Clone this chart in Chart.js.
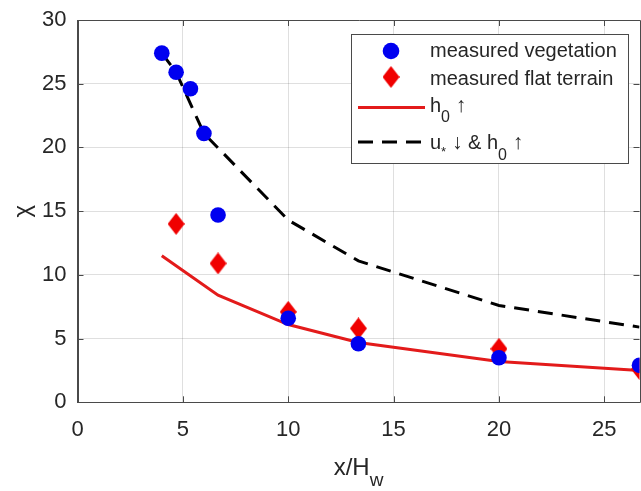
<!DOCTYPE html>
<html><head><meta charset="utf-8">
<script src="https://cdn.jsdelivr.net/npm/chart.js@4/dist/chart.umd.min.js"></script>
<style>html,body{margin:0;padding:0;background:#fff}#wrap{width:641px;height:491px}</style>
</head><body><div id="wrap"><canvas id="c" width="641" height="491"></canvas></div>
<script>
// ---- data ----
const vegX = [4.0, 4.68, 5.36, 6.0, 6.67, 10, 13.33, 20, 26.67];
const vegY = [27.4, 25.9, 24.6, 21.1, 14.7, 6.6, 4.6, 3.5, 2.9];
const flatX = [4.68, 6.67, 10, 13.33, 20, 26.67];
const flatY = [14.0, 10.9, 7.1, 5.8, 4.2, 2.6];
const h0X = [4.0, 6.67, 10, 13.33, 20, 26.67];
const h0Y = [11.5, 8.4, 6.1, 4.7, 3.2, 2.5];
const uhX = [4.0, 4.68, 6.0, 10, 13.33, 20, 26.67];
const uhY = [27.4, 25.9, 21.1, 14.3, 11.1, 7.6, 5.9];
const xTicks = [0, 5, 10, 15, 20, 25];
const yTicks = [0, 5, 10, 15, 20, 25, 30];
const xMin = 0, xMax = 26.67, yMin = 0, yMax = 30;
const seriesNames = ['measured vegetation', 'measured flat terrain', 'h0 ↑', 'u* ↓ & h0 ↑'];

const FONT = "'Liberation Sans', Arial, sans-serif";
const TXT = '#262626';
const AX = '#4a4a4a';
const BLUE = '#0000f0';
const RED = '#f00000';
const LRED = '#e31b1b';

function pts(xs, ys) { return xs.map((x, i) => ({x: x, y: ys[i]})); }

function diamond(w, h) {
  const c = document.createElement('canvas');
  c.width = w; c.height = h;
  const g = c.getContext('2d');
  g.fillStyle = RED;
  g.beginPath();
  g.moveTo(w / 2, 0); g.lineTo(w, h / 2); g.lineTo(w / 2, h); g.lineTo(0, h / 2);
  g.closePath(); g.fill();
  return c;
}
const dia = diamond(17, 22);

function drawRich(ctx, x, y, segs) {
  let cx = x;
  segs.forEach(s => {
    ctx.font = s.size + 'px ' + FONT;
    ctx.fillText(s.t, cx, y + (s.dy || 0));
    cx += ctx.measureText(s.t).width;
  });
  return cx - x;
}
function richWidth(ctx, segs) {
  let w = 0;
  segs.forEach(s => { ctx.font = s.size + 'px ' + FONT; w += ctx.measureText(s.t).width; });
  return w;
}
function noPad(s) { s.paddingLeft = 0; s.paddingRight = 0; s.paddingTop = 0; s.paddingBottom = 0; }

const decor = {
  id: 'decor',
  beforeDatasetsDraw(chart) {
    const ctx = chart.ctx, a = chart.chartArea;
    const xs = chart.scales.x, ys = chart.scales.y;
    ctx.save();
    ctx.strokeStyle = AX; ctx.lineWidth = 1;
    ctx.beginPath();
    ctx.rect(Math.round(a.left) + 0.5, Math.round(a.top) + 0.5, Math.round(a.right - a.left), Math.round(a.bottom - a.top));
    ctx.stroke();
    const tl = 6;
    ctx.beginPath();
    xTicks.forEach(v => {
      const px = Math.round(xs.getPixelForValue(v)) + 0.5;
      ctx.moveTo(px, a.bottom); ctx.lineTo(px, a.bottom - tl);
      ctx.moveTo(px, a.top); ctx.lineTo(px, a.top + tl);
    });
    yTicks.forEach(v => {
      const py = Math.round(ys.getPixelForValue(v)) + 0.5;
      ctx.moveTo(a.left, py); ctx.lineTo(a.left + tl, py);
      ctx.moveTo(a.right, py); ctx.lineTo(a.right - tl, py);
    });
    ctx.stroke();
    ctx.restore();
  },
  afterDraw(chart) {
    const ctx = chart.ctx, a = chart.chartArea;
    ctx.save();
    ctx.fillStyle = TXT;
    ctx.textBaseline = 'alphabetic';
    ctx.textAlign = 'left';
    // x title
    const xt = [{t: 'x/H', size: 24}, {t: 'w', size: 19, dy: 11}];
    const w = richWidth(ctx, xt);
    drawRich(ctx, (a.left + a.right) / 2 - w / 2, 475, xt);
    // y title
    ctx.save();
    ctx.translate(23, (a.top + a.bottom) / 2);
    ctx.rotate(-Math.PI / 2);
    ctx.font = '24px ' + FONT;
    ctx.textAlign = 'center';
    ctx.textBaseline = 'middle';
    ctx.fillText('χ', 0, 0);
    ctx.restore();

    // legend
    const L = 351, T = 34, R = 628, B = 163;
    ctx.fillStyle = '#ffffff';
    ctx.fillRect(L, T, R - L, B - T);
    ctx.strokeStyle = AX; ctx.lineWidth = 1;
    ctx.strokeRect(L + 0.5, T + 0.5, R - L, B - T);
    const ds = chart.data.datasets;
    const mx = 391, tx = 430;
    ctx.fillStyle = ds[0].backgroundColor;
    ctx.beginPath(); ctx.arc(mx, 51, 8.3, 0, Math.PI * 2); ctx.fill();
    ctx.drawImage(dia, mx - dia.width / 2, 77 - dia.height / 2);
    ctx.strokeStyle = ds[2].borderColor; ctx.lineWidth = 3;
    ctx.beginPath(); ctx.moveTo(358, 107.5); ctx.lineTo(425, 107.5); ctx.stroke();
    ctx.strokeStyle = ds[3].borderColor; ctx.setLineDash([15, 9]);
    ctx.beginPath(); ctx.moveTo(358, 142); ctx.lineTo(425, 142); ctx.stroke();
    ctx.setLineDash([]);
    ctx.fillStyle = TXT;
    drawRich(ctx, tx, 57, [{t: seriesNames[0], size: 20}]);
    drawRich(ctx, tx, 84.5, [{t: seriesNames[1], size: 20}]);
    drawRich(ctx, tx, 112, [{t: 'h', size: 20}, {t: '0', size: 16, dy: 10}, {t: ' ↑', size: 21}]);
    drawRich(ctx, tx, 148.5, [{t: 'u', size: 20}, {t: '*', size: 13, dy: 7}, {t: ' ↓', size: 21}, {t: ' & h', size: 20}, {t: '0', size: 16, dy: 11}, {t: ' ↑', size: 21}]);
    ctx.restore();
  }
};

new Chart(document.getElementById('c'), {
  type: 'scatter',
  data: {
    datasets: [
      {label: seriesNames[0], data: pts(vegX, vegY), showLine: false, pointStyle: 'circle', pointRadius: 7.8, pointHoverRadius: 7.8, backgroundColor: BLUE, borderColor: BLUE, borderWidth: 0, clip: 0},
      {label: seriesNames[1], data: pts(flatX, flatY), showLine: false, pointStyle: dia, pointRadius: 9, backgroundColor: RED, borderColor: RED, borderWidth: 0, clip: 0},
      {label: seriesNames[2], data: pts(h0X, h0Y), showLine: true, pointRadius: 0, borderColor: LRED, backgroundColor: LRED, borderWidth: 3, tension: 0, clip: 0},
      {label: seriesNames[3], data: pts(uhX, uhY), showLine: true, pointRadius: 0, borderColor: '#000000', backgroundColor: '#000000', borderWidth: 3, borderDash: [15, 9], tension: 0, clip: 0}
    ]
  },
  options: {
    responsive: false,
    animation: false,
    devicePixelRatio: 1,
    layout: {autoPadding: false, padding: {top: 20, right: 1.5, left: 0, bottom: 0}},
    plugins: {legend: {display: false}, tooltip: {enabled: false}},
    scales: {
      x: {
        type: 'linear', min: xMin, max: xMax,
        afterBuildTicks: s => { s.ticks = xTicks.map(v => ({value: v})); },
        afterFit: s => { s.height = 88.7; noPad(s); },
        grid: {color: 'rgba(38,38,38,0.15)', lineWidth: 1, drawTicks: false},
        border: {display: true, color: AX, width: 1},
        ticks: {color: TXT, font: {family: FONT, size: 22}, padding: 14, maxRotation: 0}
      },
      y: {
        type: 'linear', min: yMin, max: yMax,
        afterBuildTicks: s => { s.ticks = yTicks.map(v => ({value: v})); },
        afterFit: s => { s.width = 77.5; noPad(s); },
        grid: {color: 'rgba(38,38,38,0.15)', lineWidth: 1, drawTicks: false},
        border: {display: true, color: AX, width: 1},
        ticks: {color: TXT, font: {family: FONT, size: 22}, padding: 11}
      }
    }
  },
  plugins: [decor]
});
</script>
</body></html>
